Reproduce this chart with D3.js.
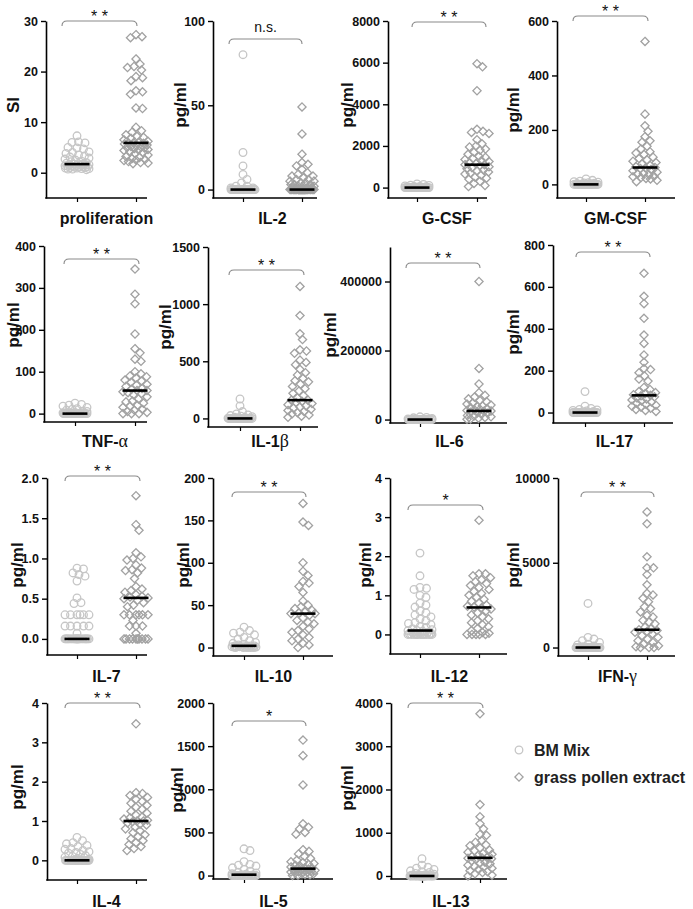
<!DOCTYPE html>
<html><head><meta charset="utf-8">
<script src="https://cdn.jsdelivr.net/npm/d3@7"></script>
<style>
html,body{margin:0;padding:0;background:#fff;}
svg{display:block;font-family:"Liberation Sans",Arial,sans-serif;}
</style></head>
<body><svg id="c" width="693" height="909"></svg>
<script>
// ---------------- DATA ----------------
const categories = ["proliferation","IL-2","G-CSF","GM-CSF","TNF-\u03b1","IL-1\u03b2","IL-6","IL-17","IL-7","IL-10","IL-12","IFN-\u03b3","IL-4","IL-5","IL-13"];
const yTitles = ["SI","pg/ml","pg/ml","pg/ml","pg/ml","pg/ml","pg/ml","pg/ml","pg/ml","pg/ml","pg/ml","pg/ml","pg/ml","pg/ml","pg/ml"];
const significance = ["* *","n.s.","* *","* *","* *","* *","* *","* *","* *","* *","*","* *","* *","*","* *"];
const yDomains = [[-5,30],[-5,100],[-500,8000],[-50,600],[-20,400],[-75,1500],[-10000,500000],[-50,800],[-0.2,2],[-10,200],[-0.5,4],[-500,10000],[-0.5,4],[-40,2000],[-70,4000]];
const yTicks = [[0,10,20,30],[0,50,100],[0,2000,4000,6000,8000],[0,200,400,600],[0,100,200,300,400],[0,500,1000,1500],[0,200000,400000],[0,200,400,600,800],[0,0.5,1,1.5,2],[0,50,100,150,200],[0,1,2,3,4],[0,5000,10000],[0,1,2,3,4],[0,500,1000,1500,2000],[0,1000,2000,3000,4000]];
const tickFormats = ["d","d","d","d","d","d","d","d",".1f","d","d","d","d","d","d"];
const seriesNames = ["BM Mix","grass pollen extract"];

const bmMix = [
 [7.3,6.1,6.0,5.9,5.0,4.9,4.7,4.1,4.0,3.8,3.5,3.3,3.1,2.9,2.7,2.5,2.3,2.2,2.0,1.9,1.8,1.7,1.7,1.6,1.6,1.5,1.5,1.4,1.4,1.3,1.3,1.2,1.2,1.1,1.1,1.0,1.0,0.9,0.9,0.8,0.8,0.7,0.7,0.6],
 [80,22,14,9,6,4,2,2,1,1,0,0,0,0,0,0,0,0,0,0,0,0,0,0,0,0,0,0,0,0,0,0,0,0,0,0,0,0,0,0],
 [180,150,120,100,80,60,50,40,30,20,10,0,0,0,0,0,0,0,0,0,0,0,0,0,0,0,0,0,0,0,0,0,0,0,0,0,0,0,0,0,0],
 [20,15,12,10,8,6,5,4,3,2,1,0,0,0,0,0,0,0,0,0,0,0,0,0,0,0,0,0,0,0,0,0,0,0,0,0,0,0,0,0,0],
 [25,22,20,18,15,12,10,8,6,5,3,2,0,0,0,0,0,0,0,0,0,0,0,0,0,0,0,0,0,0,0,0,0,0,0,0,0,0,0,0,0,0],
 [170,110,60,40,30,25,20,15,10,8,5,3,0,0,0,0,0,0,0,0,0,0,0,0,0,0,0,0,0,0,0,0,0,0,0,0,0,0,0,0,0,0],
 [8000,6000,5000,3000,2000,1000,500,0,0,0,0,0,0,0,0,0,0,0,0,0,0,0,0,0,0,0,0,0,0,0,0,0,0,0,0,0,0],
 [100,30,20,15,12,10,8,5,3,1,0,0,0,0,0,0,0,0,0,0,0,0,0,0,0,0,0,0,0,0,0,0,0,0,0,0,0,0,0,0],
 [0.88,0.87,0.82,0.80,0.78,0.72,0.51,0.45,0.44,0.30,0.30,0.30,0.30,0.30,0.30,0.16,0.16,0.16,0.16,0.16,0.07,0,0,0,0,0,0,0,0,0,0,0,0,0,0,0,0,0,0,0,0,0,0,0,0,0],
 [24,20,18,17,15,12,10,8,6,5,4,3,2,2,2,2,1,1,1,1,1,0.5,0.5,0.5,0.5,0,0,0,0,0],
 [2.08,1.5,1.2,1.18,1.15,1.0,0.95,0.8,0.75,0.7,0.6,0.55,0.5,0.45,0.4,0.35,0.3,0.28,0.25,0.2,0.18,0.15,0.12,0.1,0.1,0.08,0.05,0.04,0.03,0.02,0.01,0,0,0,0,0,0,0,0,0,0,0,0,0,0],
 [2600,600,500,400,300,200,150,100,50,0,0,0,0,0,0,0,0,0,0,0,0,0,0,0,0,0,0,0,0,0,0,0,0,0,0,0,0,0,0],
 [0.58,0.5,0.45,0.42,0.38,0.35,0.3,0.28,0.25,0.22,0.2,0.18,0.15,0.12,0.1,0.08,0.05,0.03,0.01,0,0,0,0,0,0,0,0,0,0,0,0,0,0,0,0,0,0,0,0,0,0,0,0,0],
 [310,290,160,130,120,110,90,70,50,40,30,20,15,10,5,0,0,0,0,0,0,0,0,0,0,0,0,0,0,0,0,0,0,0,0],
 [400,250,200,180,150,120,100,80,60,40,30,20,10,5,0,0,0,0,0,0,0,0,0,0,0,0,0,0,0,0,0,0,0,0,0,0,0,0,0]
];
const grassPollen = [
 [27.3,26.9,26.7,22.5,21.5,21.0,20.8,20.3,19.0,18.8,18.2,16.2,16.0,15.5,12.8,12.7,9.0,8.3,8.0,7.5,7.2,7.0,6.8,6.5,6.2,6.0,5.9,5.9,5.8,5.7,5.5,5.4,5.2,5.1,5.0,4.9,4.8,4.6,4.5,4.4,4.2,4.0,3.8,3.5,3.2,3.0,2.8,2.6,2.5,2.4,2.2,2.0,1.9,1.8],
 [49,33,21,16,15,14,12,10,9,8,8,7,6,6,5,5,4,4,3,3,3,2,2,2,1,1,1,1,0,0,0,0,0,0,0,0,0,0,0,0,0,0,0,0,0,0,0,0,0,0,0,0,0,0,0,0,0,0],
 [5950,5800,4650,2800,2700,2650,2600,2300,2100,2000,1950,1850,1800,1700,1600,1500,1450,1400,1350,1300,1250,1200,1150,1100,1100,1050,1000,950,900,850,800,750,700,650,600,500,450,400,300,200,100,50],
 [525,258,215,195,175,160,155,140,130,120,115,110,100,95,90,85,80,75,70,65,62,60,58,55,50,45,40,38,35,30,28,25,22,20,15,10],
 [345,285,262,190,155,145,130,125,100,95,90,88,85,80,78,75,70,68,65,60,58,55,55,52,50,48,45,40,35,30,28,25,20,18,15,10,8,5,3,0,0,0],
 [1155,900,740,690,600,590,570,510,490,470,430,400,380,350,330,320,300,280,260,240,220,200,180,160,160,150,140,130,120,110,100,90,80,70,60,50,40,30,20,10],
 [400000,148000,103000,78000,70000,65000,60000,55000,52000,48000,45000,42000,40000,38000,35000,32000,30000,28000,26000,25000,24000,22000,20000,18000,15000,12000,10000,8000,6000,4000,2000,1000],
 [665,555,520,450,370,330,275,240,210,205,190,175,160,150,120,110,100,95,90,85,82,80,75,70,65,60,55,50,45,40,35,30,25,20,15,10,5],
 [1.78,1.42,1.35,1.07,1.02,1.00,0.98,0.92,0.88,0.86,0.85,0.82,0.75,0.65,0.62,0.60,0.58,0.55,0.53,0.52,0.51,0.50,0.48,0.45,0.42,0.40,0.30,0.30,0.30,0.30,0.30,0.30,0.23,0.16,0.16,0.16,0.07,0,0,0,0,0,0,0,0,0,0],
 [170,148,144,100,90,85,78,76,72,65,55,50,48,46,44,42,41,40,40,38,35,32,30,28,25,22,20,18,15,12,10,8,5,3,0],
 [2.92,1.55,1.55,1.5,1.45,1.4,1.35,1.3,1.25,1.2,1.15,1.1,1.05,1.0,0.95,0.9,0.85,0.8,0.75,0.72,0.7,0.68,0.65,0.6,0.55,0.5,0.45,0.4,0.35,0.3,0.25,0.2,0.15,0.1,0.05,0.03,0,0,0,0,0],
 [8000,7300,5350,4700,4700,4300,3700,3200,3100,2900,2700,2400,2300,2100,1900,1800,1600,1500,1400,1200,1100,1050,1000,950,900,800,700,600,500,400,300,200,100,50,0,0,0],
 [3.47,1.72,1.7,1.65,1.6,1.55,1.5,1.45,1.4,1.35,1.3,1.25,1.2,1.15,1.1,1.08,1.05,1.02,1.0,1.0,0.98,0.95,0.92,0.9,0.85,0.8,0.75,0.7,0.65,0.6,0.55,0.5,0.45,0.4,0.35,0.3,0.25],
 [1570,1390,1050,600,560,540,500,480,300,280,250,220,200,180,160,150,140,130,120,110,100,90,85,80,75,70,65,60,55,50,45,40,35,30,25,20,15,10,5,0],
 [3750,1650,1370,1210,1090,960,940,820,780,720,700,650,600,580,550,520,500,480,450,430,420,410,400,380,350,320,300,280,250,220,200,180,150,120,100,80,50,20,0]
];
const medianBM =    [1.7,0,0,0,0,0,0,0,0,2,0.1,0,0,10,0];
const medianGrass = [5.9,0,1100,62,55,160,25000,82,0.51,40,0.69,1050,1.0,80,420];

// ---------------- LAYOUT (pixels) ----------------
const layout = [
 {ax:46, g:[77,136], xe:147, yb:198, yt:21, br:[21,62,137], tt:[13,105], lb:224},
 {ax:213,g:[243,302],xe:317, yb:198, yt:21, br:[39,229,302], tt:[180,105], lb:224},
 {ax:388,g:[417,477],xe:487, yb:198, yt:21, br:[22,412,486], tt:[347,105], lb:224},
 {ax:557,g:[586,645],xe:675, yb:198, yt:21, br:[16,573,648], tt:[513,110], lb:224},
 {ax:44, g:[75,135], xe:147, yb:422, yt:246,br:[259,64,139], tt:[13,325], lb:447},
 {ax:208,g:[240,300],xe:318, yb:427, yt:247,br:[270,229,304], tt:[165,327], lb:447},
 {ax:390,g:[420,479],xe:507, yb:423, yt:247,br:[263,406,480], tt:[330,335], lb:447},
 {ax:553,g:[585,644],xe:673, yb:423, yt:245,br:[252,576,650], tt:[513,332], lb:447},
 {ax:47, g:[77,136], xe:147, yb:655, yt:478,br:[476,65,140], tt:[17,565], lb:682},
 {ax:213,g:[244,303],xe:333, yb:656, yt:478,br:[492,232,306], tt:[183,565], lb:682},
 {ax:390,g:[420,479],xe:507, yb:654, yt:478,br:[505,408,483], tt:[365,565], lb:682},
 {ax:558,g:[588,647],xe:675, yb:656, yt:478,br:[492,581,654], tt:[513,565], lb:682},
 {ax:47, g:[77,136], xe:147, yb:880, yt:703,br:[703,65,140], tt:[17,787], lb:907},
 {ax:213,g:[244,303],xe:333, yb:879, yt:703,br:[721,232,306], tt:[177,790], lb:907},
 {ax:391,g:[422,480],xe:507, yb:879, yt:703,br:[703,408,483], tt:[347,788], lb:907}
];
const colBM = "#c6c6c6", colGrass = "#a2a2a2";
const markR = 3.8, minDist = 6.2, maxOff = 12;

const svg = d3.select("#c");

function diamondPath(r){ return `M0,${-r}L${r},0L0,${r}L${-r},0Z`; }

function swarm(vals, y, cx){
  const pts = vals.map(v=>({v, y:y(v)})).sort((a,b)=>a.y-b.y);
  const placed = [];
  const offs=[0]; for(let o=0.5;o<=maxOff;o+=0.5){offs.push(o,-o);}
  for(const p of pts){
    let best=0, bestScore=-1;
    for(const o of offs){
      let md=Infinity;
      for(const q of placed){
        const dy=Math.abs(q.y-p.y);
        if(dy<minDist){ const dd=Math.hypot(q.x-(cx+o), dy); if(dd<md) md=dd; }
      }
      if(md>=minDist){best=o; bestScore=md; break;}
      if(md>bestScore){bestScore=md; best=o;}
    }
    p.x=cx+best; placed.push(p);
  }
  return placed;
}

function labelWithGreek(sel, str){
  const parts = str.split(/([\u03b1-\u03c9])/).filter(s=>s.length);
  parts.forEach(s=>{
    const t = sel.append("tspan").text(s);
    if(/[\u03b1-\u03c9]/.test(s)) t.style("font-family","'Liberation Serif','DejaVu Serif',serif").style("font-weight","normal").style("font-size","18px");
  });
}

categories.forEach((cat,i)=>{
  const L = layout[i];
  const g = svg.append("g");
  const y = d3.scaleLinear().domain(yDomains[i]).range([L.yb, L.yt]);
  const x = d3.scalePoint().domain(seriesNames).range(L.g);

  const ya = g.append("g").attr("transform",`translate(${L.ax},0)`)
    .call(d3.axisLeft(y).tickValues(yTicks[i]).tickFormat(d3.format(tickFormats[i])).tickSize(5).tickSizeOuter(0).tickPadding(3));
  ya.select(".domain").attr("stroke","#000").attr("stroke-width",1.6);
  ya.selectAll(".tick line").attr("stroke","#000").attr("stroke-width",1.4);
  ya.selectAll(".tick text").attr("fill","#111").style("font-size","12.5px").style("font-weight","bold").style("font-family","'Liberation Sans',Arial,sans-serif");

  const xa = g.append("g").attr("transform",`translate(0,${L.yb})`)
    .call(d3.axisBottom(x).tickSize(4).tickSizeOuter(0).tickFormat(""));
  xa.select(".domain").remove();
  xa.selectAll(".tick line").attr("stroke","#000").attr("stroke-width",1.2);
  g.append("line").attr("x1",L.ax-0.8).attr("x2",L.xe).attr("y1",L.yb).attr("y2",L.yb)
    .attr("stroke","#000").attr("stroke-width",1.6);

  const p1 = swarm(bmMix[i], y, x(seriesNames[0]));
  g.append("g").selectAll("circle").data(p1).join("circle")
    .attr("cx",d=>d.x).attr("cy",d=>d.y).attr("r",markR)
    .attr("fill","none").attr("stroke",colBM).attr("stroke-width",1.3);
  const p2 = swarm(grassPollen[i], y, x(seriesNames[1]));
  g.append("g").selectAll("path").data(p2).join("path")
    .attr("transform",d=>`translate(${d.x},${d.y})`).attr("d",diamondPath(4.1))
    .attr("fill","none").attr("stroke",colGrass).attr("stroke-width",1.3);

  [[medianBM[i],seriesNames[0]],[medianGrass[i],seriesNames[1]]].forEach(([m,s])=>{
    g.append("line").attr("x1",x(s)-12.5).attr("x2",x(s)+12.5)
      .attr("y1",y(m)).attr("y2",y(m)).attr("stroke","#000").attr("stroke-width",2.6);
  });

  const [by,bx1,bx2] = L.br;
  g.append("path").attr("d",`M${bx1},${by+5}Q${bx1},${by} ${bx1+5},${by}L${bx2-5},${by}Q${bx2},${by} ${bx2},${by+5}`)
    .attr("fill","none").attr("stroke","#8a8a8a").attr("stroke-width",1.1);
  const ns = significance[i]==="n.s.";
  g.append("text").attr("x",(bx1+bx2)/2).attr("y", ns ? by-7 : by+0.5)
    .attr("text-anchor","middle").attr("fill","#111")
    .style("font-size", ns ? "14px" : "16px")
    .style("white-space","pre")
    .text(significance[i]);

  g.append("text").attr("transform",`translate(${L.tt[0]},${L.tt[1]}) rotate(-90)`)
    .attr("text-anchor","middle").attr("dominant-baseline","central")
    .style("font-size","17px").style("font-weight","bold").attr("fill","#111")
    .text(yTitles[i]);

  const lab = g.append("text").attr("x",(L.g[0]+L.g[1])/2).attr("y",L.lb)
    .attr("text-anchor","middle").style("font-size","16px").style("font-weight","bold").attr("fill","#111");
  labelWithGreek(lab, cat);
});

const leg = svg.append("g");
leg.append("circle").attr("cx",519).attr("cy",750).attr("r",markR).attr("fill","none").attr("stroke",colBM).attr("stroke-width",1.3);
leg.append("path").attr("transform","translate(519,777)").attr("d",diamondPath(4.1)).attr("fill","none").attr("stroke",colGrass).attr("stroke-width",1.3);
leg.append("text").attr("x",534).attr("y",756).style("font-size","16px").style("font-weight","bold").attr("fill","#222").text(seriesNames[0]);
leg.append("text").attr("x",534).attr("y",783).style("font-size","16px").style("font-weight","bold").attr("fill","#222").text(seriesNames[1]);
</script></body></html>
